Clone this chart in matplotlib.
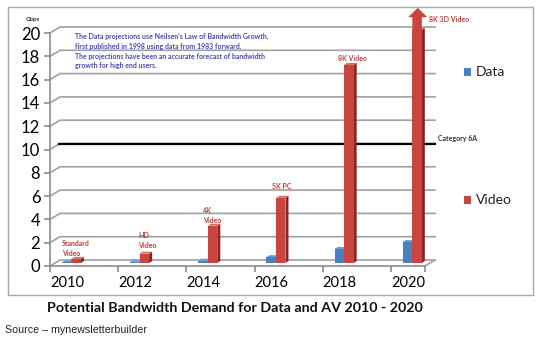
import numpy as np
import matplotlib
matplotlib.use("Agg")
import matplotlib.pyplot as plt
from matplotlib.patches import Rectangle, Polygon

## bandwidth demand per year (Gbps)
years = ['2010', '2012', '2014', '2016', '2018', '2020']
data_gbps = [0.05, 0.1, 0.2, 0.5, 1.2, 1.8]
video_gbps = [0.35, 0.8, 3.2, 5.6, 17.0, 20.0]
video_labels = ['Standard\nVideo', 'HD\nVideo', '4K\nVideo', '5K PC', '8K Video', '8K 3D Video']
category_6a = 10
y_ticks = list(range(0, 21, 2))

W, H = 537, 344
fig = plt.figure(figsize=(W / 100, H / 100), dpi=100)
plt.rcParams['font.family'] = ['Lato', 'DejaVu Sans']

## plot area in pixels (left, top, right, bottom)
L, T, R, B = 50, 33, 425, 266
ax = fig.add_axes([L / W, 1 - B / H, (R - L) / W, (B - T) / H])
ax.set_xlim(-0.25, 5.25)
ax.set_ylim(0, 20)
ax.patch.set_alpha(0)

px_x = (R - L) / 5.5   # pixels per category
px_y = (B - T) / 20.0  # pixels per Gbps

## depth of the back wall and of the bar row
wall_dx, wall_dy = 10 / px_x, 6 / px_y
bar_dx, bar_dy = 4 / px_x, 3 / px_y
side_dx, side_dy = 3 / px_x, 2 / px_y

grid_col = '#a0a0a0'
for v in y_ticks:
    ax.plot([-0.25, -0.25 + wall_dx, 5.25 + wall_dx], [v, v + wall_dy, v + wall_dy],
            color=grid_col, lw=1.2, clip_on=False, zorder=1)
# floor right edge
ax.plot([5.25, 5.25 + wall_dx], [0, wall_dy], color=grid_col, lw=1.2, clip_on=False, zorder=1)

## Category 6A line on the back wall
ax.plot([-0.12, 5.25 + wall_dx], [category_6a + wall_dy] * 2, color='black', lw=1.6,
        clip_on=False, zorder=2)
ax.text(5.25 + wall_dx + 0.04, category_6a + wall_dy + 0.15, 'Category 6A', fontsize=5,
        fontweight='bold', color='#333333', va='bottom', ha='left')

x = np.arange(len(years))
bw = 0.14
blue, blue_dark, blue_top = '#4a7fc0', '#2d5588', '#6d9bd3'
red, red_dark, red_top = '#c8463f', '#8a2522', '#d86c66'


def draw_bars(xs, vals, face, dark, top, z):
    for xc, v in zip(xs, vals):
        x0, x1 = xc - bw / 2, xc + bw / 2
        b = bar_dy
        ax.add_patch(Polygon([(x1, b), (x1, b + v), (x1 + side_dx, b + v + side_dy),
                              (x1 + side_dx, b + side_dy)], closed=True, fc=dark, ec='none',
                             zorder=z, clip_on=False))
        ax.add_patch(Polygon([(x0, b + v), (x1, b + v), (x1 + side_dx, b + v + side_dy),
                              (x0 + side_dx, b + v + side_dy)], closed=True, fc=top, ec='none',
                             zorder=z, clip_on=False))
    ax.bar(xs, vals, width=bw, bottom=bar_dy, color=face, zorder=z + 0.1, clip_on=False)


data_x = x - 0.065 + bar_dx
video_x = x + 0.075 + bar_dx
draw_bars(data_x, data_gbps, blue, blue_dark, blue_top, 3)
draw_bars(video_x, video_gbps, red, red_dark, red_top, 4)

## arrow on top of the 2020 video bar
ax_x = video_x[-1]
v = video_gbps[-1] + bar_dy
ax.add_patch(Polygon([(ax_x - bw / 2, v), (ax_x - bw / 2, v + 1.1), (ax_x - bw / 2 - 0.06, v + 1.1),
                      (ax_x + 0.01, v + 1.9), (ax_x + bw / 2 + 0.08, v + 1.1),
                      (ax_x + bw / 2, v + 1.1), (ax_x + bw / 2, v)], closed=True,
                     fc=red, ec='none', zorder=5, clip_on=False))

## labels above the video bars
label_pos = [(-0.07, 0.75), (0.04, 1.5), (0.0, 3.6), (0.01, 6.5), (-0.03, 17.5), (0.31, 20.9)]
for i, (lab, (dx, y)) in enumerate(zip(video_labels, label_pos)):
    ax.text(i + dx, y, lab, fontsize=5, fontweight='bold', color='#b8403c',
            ha='left', va='bottom', linespacing=1.5, clip_on=False)

## note about the projections
note = ("The Data projections use Neilsen's Law of Bandwidth Growth,\n"
        "first published in 1998 using data from 1983 forward.\n"
        "The projections have been an accurate forecast of bandwidth\n"
        "growth for high end users.")
fig.text(75 / W, 1 - 33 / H, note, fontsize=5, fontweight='bold', color='#4a4aae',
         ha='left', va='top', linespacing=1.45)

## axes styling
for s in ['top', 'right']:
    ax.spines[s].set_visible(False)
for s in ['left', 'bottom']:
    ax.spines[s].set_color('#8c8c8c')
    ax.spines[s].set_linewidth(1.2)
ax.set_yticks(y_ticks)
ax.set_yticklabels([str(t) for t in y_ticks], fontsize=12)
ax.tick_params(axis='y', length=4, width=1.2, color='#8c8c8c', pad=3)
ax.set_xticks(list(x - 0.25) + [5.25])
ax.set_xticklabels([])
ax.tick_params(axis='x', length=4, width=1.2, color='#8c8c8c')
ax.set_xticks(x, years, minor=True)
ax.tick_params(axis='x', which='minor', length=0, labelsize=10.5, pad=7)

fig.text(26 / W, 1 - 20 / H, 'Gbps', fontsize=4.5, fontweight='bold', color='#333333',
         va='center', ha='left')

## legend
for name, col, ypx in [('Data', blue, 72), ('Video', red, 200)]:
    fig.add_artist(Rectangle((464 / W, 1 - (ypx + 4) / H), 7 / W, 8 / H,
                             transform=fig.transFigure, fc=col, ec='none'))
    fig.text(476 / W, 1 - ypx / H, name, fontsize=10, va='center', ha='left', color='#222222')

## outer frame
fig.add_artist(Rectangle((8 / W, 1 - 295 / H), 525 / W, 288 / H, transform=fig.transFigure,
                         fc='none', ec='#a8a8a8', lw=1))

fig.text(235 / W, 1 - 308 / H, 'Potential Bandwidth Demand for Data and AV 2010 - 2020',
         fontsize=10.3, fontweight='bold', ha='center', va='center', color='#111111')
fig.text(5 / W, 1 - 330 / H, 'Source \u2013 mynewsletterbuilder', fontsize=7.7,
         family='Liberation Sans', ha='left', va='center', color='#222222')

fig.savefig('out.png', dpi=100)
